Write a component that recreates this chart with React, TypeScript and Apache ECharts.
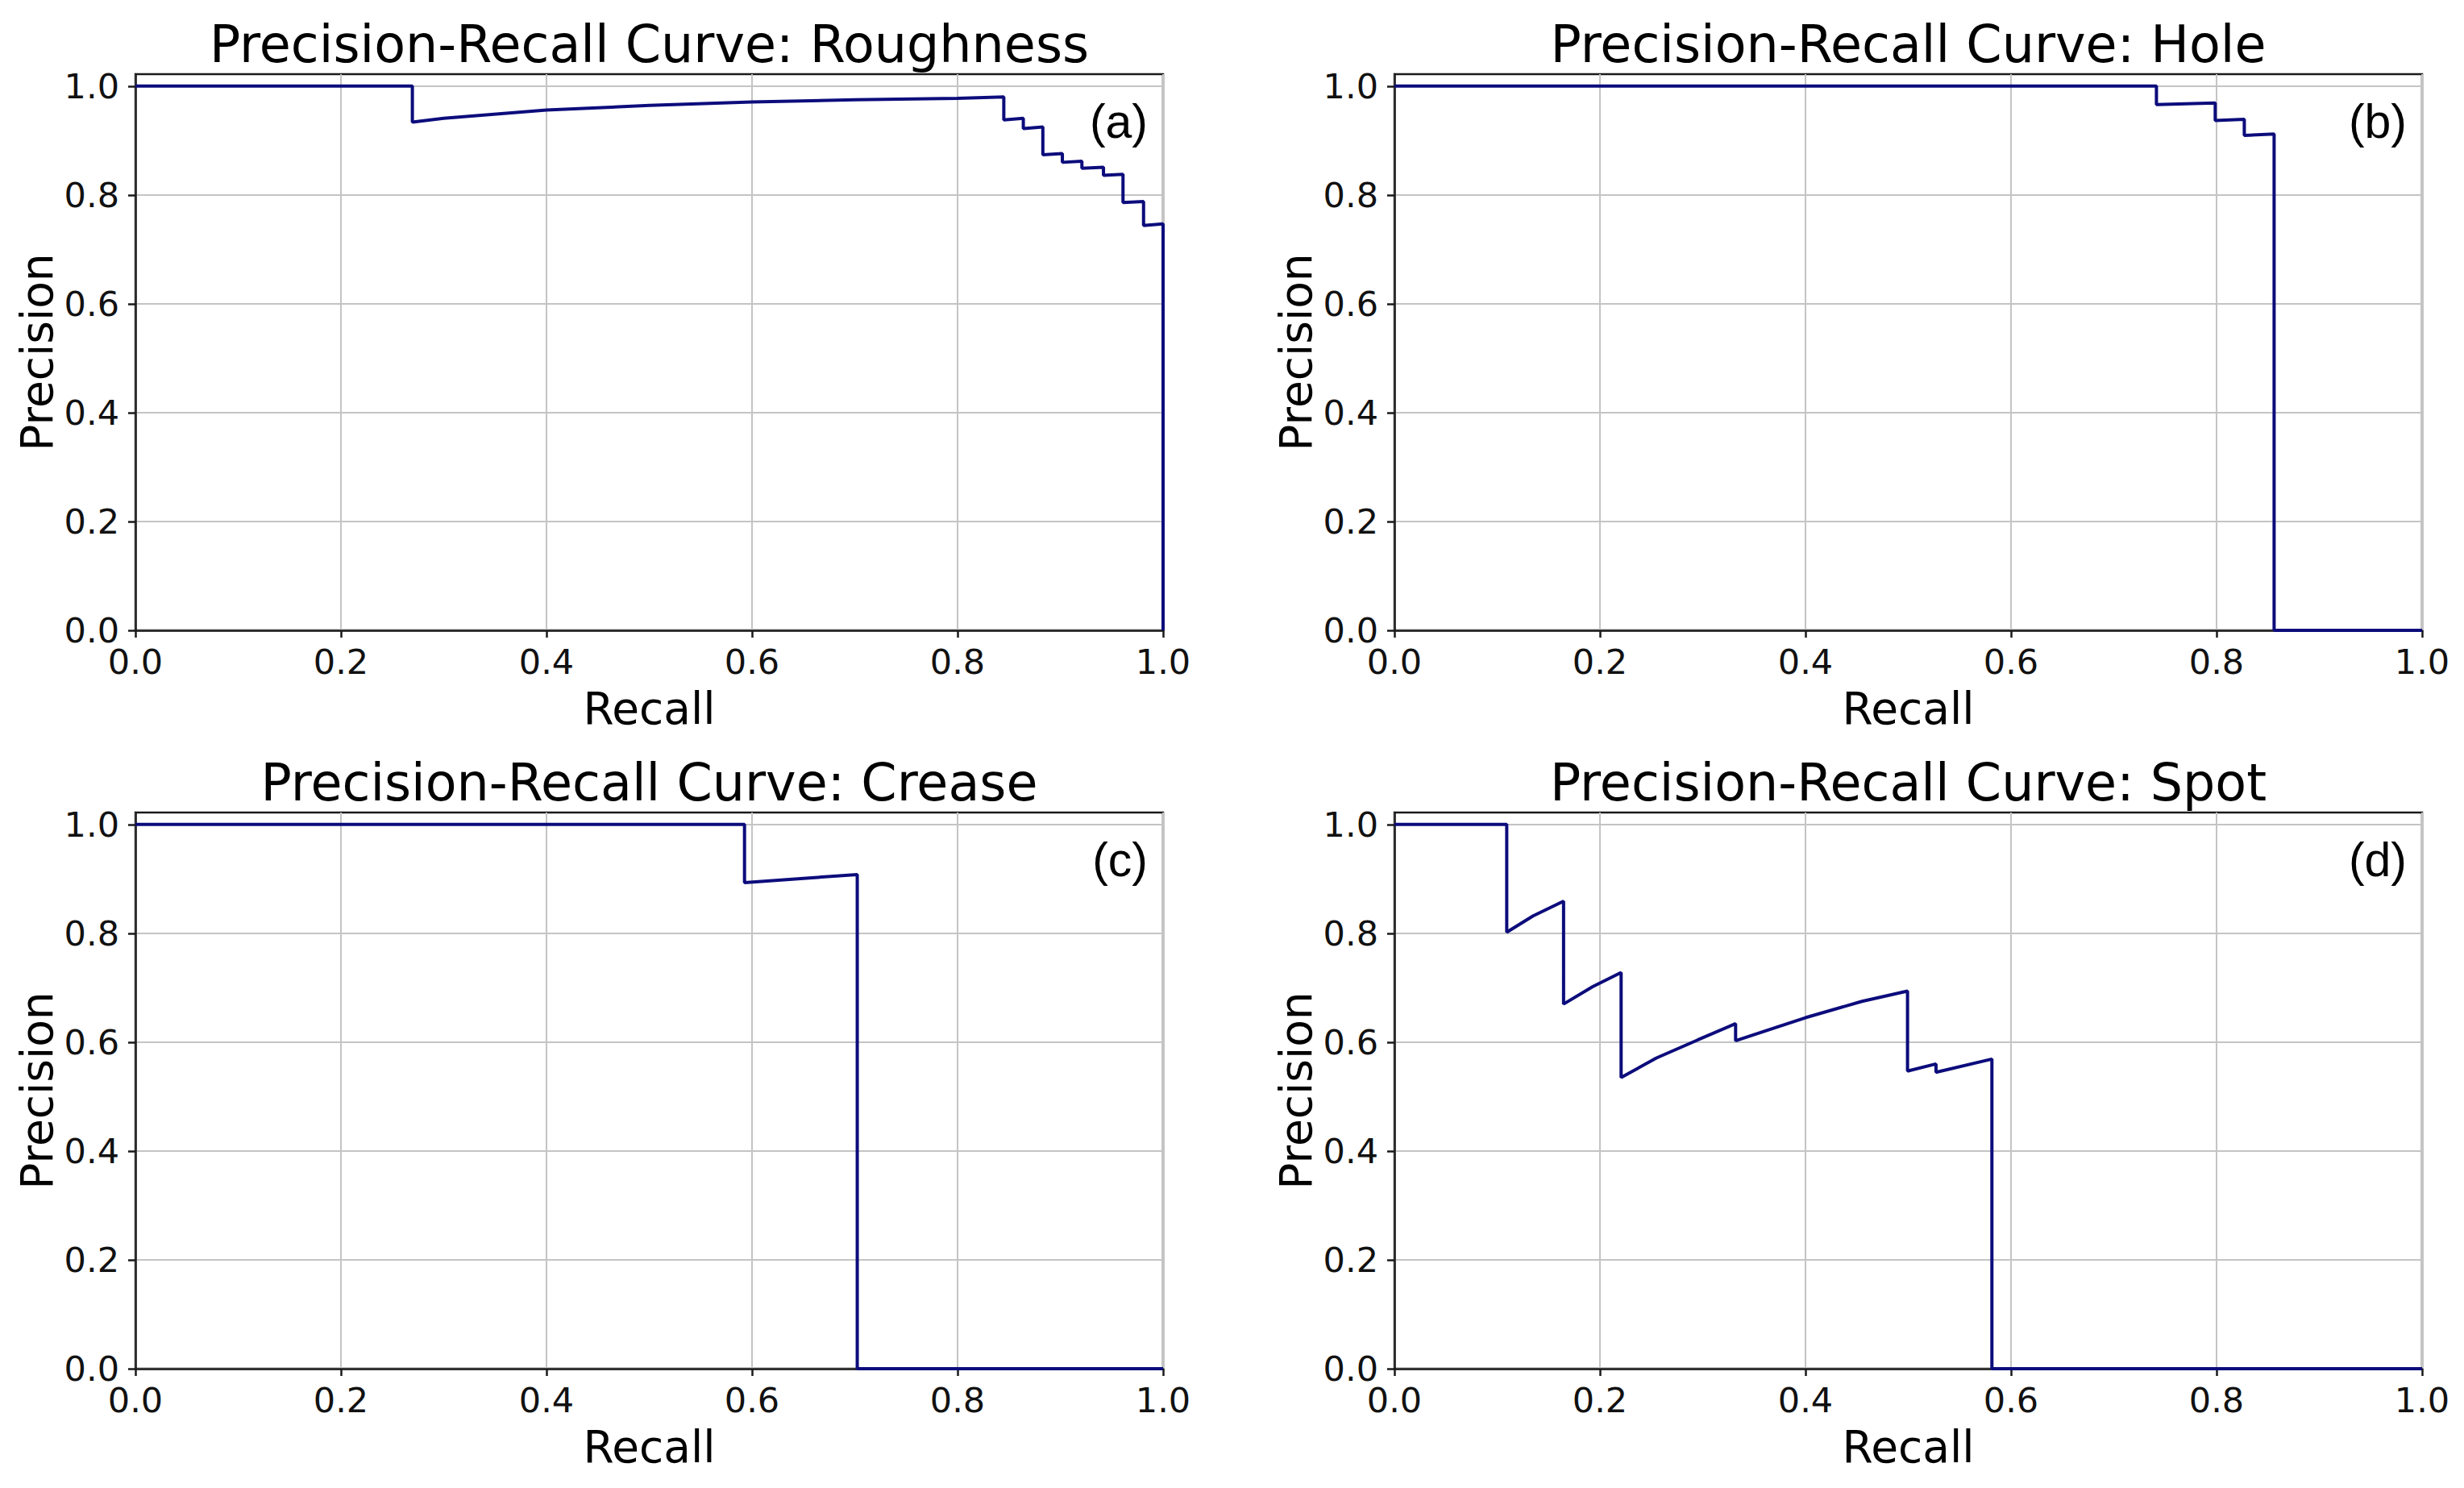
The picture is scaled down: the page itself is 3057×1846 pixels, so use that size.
import React, { useEffect, useRef } from "react";
import * as echarts from "echarts";

// ---- data ----
const panelTitles = [
  "Precision-Recall Curve: Roughness",
  "Precision-Recall Curve: Hole",
  "Precision-Recall Curve: Crease",
  "Precision-Recall Curve: Spot",
];
const panelTags = ["(a)", "(b)", "(c)", "(d)"];
const tickValues = [0, 0.2, 0.4, 0.6, 0.8, 1.0];

const roughRecall = [0, 0.2695, 0.2695, 0.3, 0.4, 0.5, 0.6, 0.7, 0.8, 0.845, 0.845, 0.864, 0.864, 0.883, 0.883, 0.902, 0.902, 0.921, 0.921, 0.942, 0.942, 0.961, 0.961, 0.981, 0.981, 1.0, 1.0];
const roughPrecision = [1.0, 1.0, 0.934, 0.941, 0.956, 0.9645, 0.971, 0.975, 0.9775, 0.98, 0.938, 0.941, 0.922, 0.925, 0.874, 0.876, 0.86, 0.862, 0.849, 0.851, 0.836, 0.838, 0.786, 0.788, 0.744, 0.747, 0.0];

const holeRecall = [0, 0.7415, 0.7415, 0.7987, 0.7987, 0.827, 0.827, 0.856, 0.856, 1.0];
const holePrecision = [1.0, 1.0, 0.966, 0.969, 0.937, 0.939, 0.9095, 0.912, 0.0, 0.0];

const creaseRecall = [0, 0.5927, 0.5927, 0.65, 0.7024, 0.7024, 1.0];
const creasePrecision = [1.0, 1.0, 0.893, 0.901, 0.908, 0.0, 0.0];

const spotRecall = [0, 0.1093, 0.1093, 0.135, 0.1646, 0.1646, 0.193, 0.2206, 0.2206, 0.255, 0.295, 0.332, 0.332, 0.4, 0.455, 0.4993, 0.4993, 0.527, 0.527, 0.5814, 0.5814, 1.0];
const spotPrecision = [1.0, 1.0, 0.802, 0.832, 0.859, 0.67, 0.702, 0.728, 0.535, 0.571, 0.604, 0.634, 0.6025, 0.645, 0.675, 0.694, 0.547, 0.56, 0.5446, 0.569, 0.0, 0.0];

const curves = [
  [roughRecall, roughPrecision],
  [holeRecall, holePrecision],
  [creaseRecall, creasePrecision],
  [spotRecall, spotPrecision],
];

const W = 3057;
const H = 1846;

export default function App() {
  const ref = useRef<HTMLDivElement>(null);

  useEffect(() => {
    document.body.style.margin = "0";
    if (!ref.current) return;
    const chart = echarts.init(ref.current, undefined, { renderer: "svg" });

    const grids = [
      { left: 168, top: 92, width: 1275, height: 690 },
      { left: 1730, top: 92, width: 1275, height: 690 },
      { left: 168, top: 1008, width: 1275, height: 690 },
      { left: 1730, top: 1008, width: 1275, height: 690 },
    ];
    const font = '"DejaVu Sans", sans-serif';
    const tickFmt = (v: number) => v.toFixed(1);

    const option: any = {
      animation: false,
      backgroundColor: "#ffffff",
      grid: grids.map((g) => ({
        ...g,
        show: true,
        borderColor: "#1a1a1a",
        borderWidth: 2.5,
        backgroundColor: "transparent",
        containLabel: false,
      })),
      xAxis: grids.map((_, i) => ({
        type: "value",
        gridIndex: i,
        min: 0,
        max: 1,
        interval: 0.2,
        name: "Recall",
        nameLocation: "middle",
        nameGap: 69,
        nameTextStyle: { fontFamily: font, fontSize: 55, color: "#000" },
        axisLine: { show: true, onZero: false, lineStyle: { color: "#1a1a1a", width: 2.5 } },
        axisTick: { show: true, inside: false, length: 9, lineStyle: { color: "#1a1a1a", width: 2.5 } },
        axisLabel: { formatter: tickFmt, margin: 17, fontFamily: font, fontSize: 43, color: "#111" },
        splitLine: { show: true, lineStyle: { color: "#c4c4c4", width: 2 } },
      })),
      yAxis: grids.map((_, i) => ({
        type: "value",
        gridIndex: i,
        min: 0,
        max: 1.022,
        name: "Precision",
        nameLocation: "middle",
        nameGap: 95,
        nameTextStyle: { fontFamily: font, fontSize: 55, color: "#000" },
        axisLine: { show: true, onZero: false, lineStyle: { color: "#1a1a1a", width: 2.5 } },
        axisTick: { show: true, inside: false, length: 9, customValues: tickValues, lineStyle: { color: "#1a1a1a", width: 2.5 } },
        axisLabel: { formatter: tickFmt, customValues: tickValues, margin: 20, fontFamily: font, fontSize: 43, color: "#111" },
        splitLine: { show: true, lineStyle: { color: "#c4c4c4", width: 2 } },
      })),
      series: curves.map(([xs, ys], i) => ({
        type: "line",
        xAxisIndex: i,
        yAxisIndex: i,
        data: xs.map((x, k) => [x, ys[k]]),
        showSymbol: false,
        symbol: "none",
        clip: false,
        lineStyle: { color: "#0c0c7c", width: 4 },
        z: 5,
      })),
      graphic: [
        ...grids.map((g, i) => ({
          type: "text",
          x: g.left + g.width / 2,
          y: g.top - 37,
          z: 10,
          style: {
            text: panelTitles[i],
            font: `63.5px ${font}`,
            fill: "#000",
            textAlign: "center",
            textVerticalAlign: "middle",
            align: "center",
            verticalAlign: "middle",
          },
        })),
        ...grids.map((g, i) => ({
          type: "text",
          x: g.left + g.width - 19,
          y: g.top + 59,
          z: 10,
          style: {
            text: panelTags[i],
            font: '59px "Liberation Sans", Arial, sans-serif',
            fill: "#000",
            textAlign: "right",
            textVerticalAlign: "middle",
            align: "right",
            verticalAlign: "middle",
          },
        })),
      ],
    };

    chart.setOption(option);
    return () => chart.dispose();
  }, []);

  return <div ref={ref} style={{ width: W, height: H }} />;
}
